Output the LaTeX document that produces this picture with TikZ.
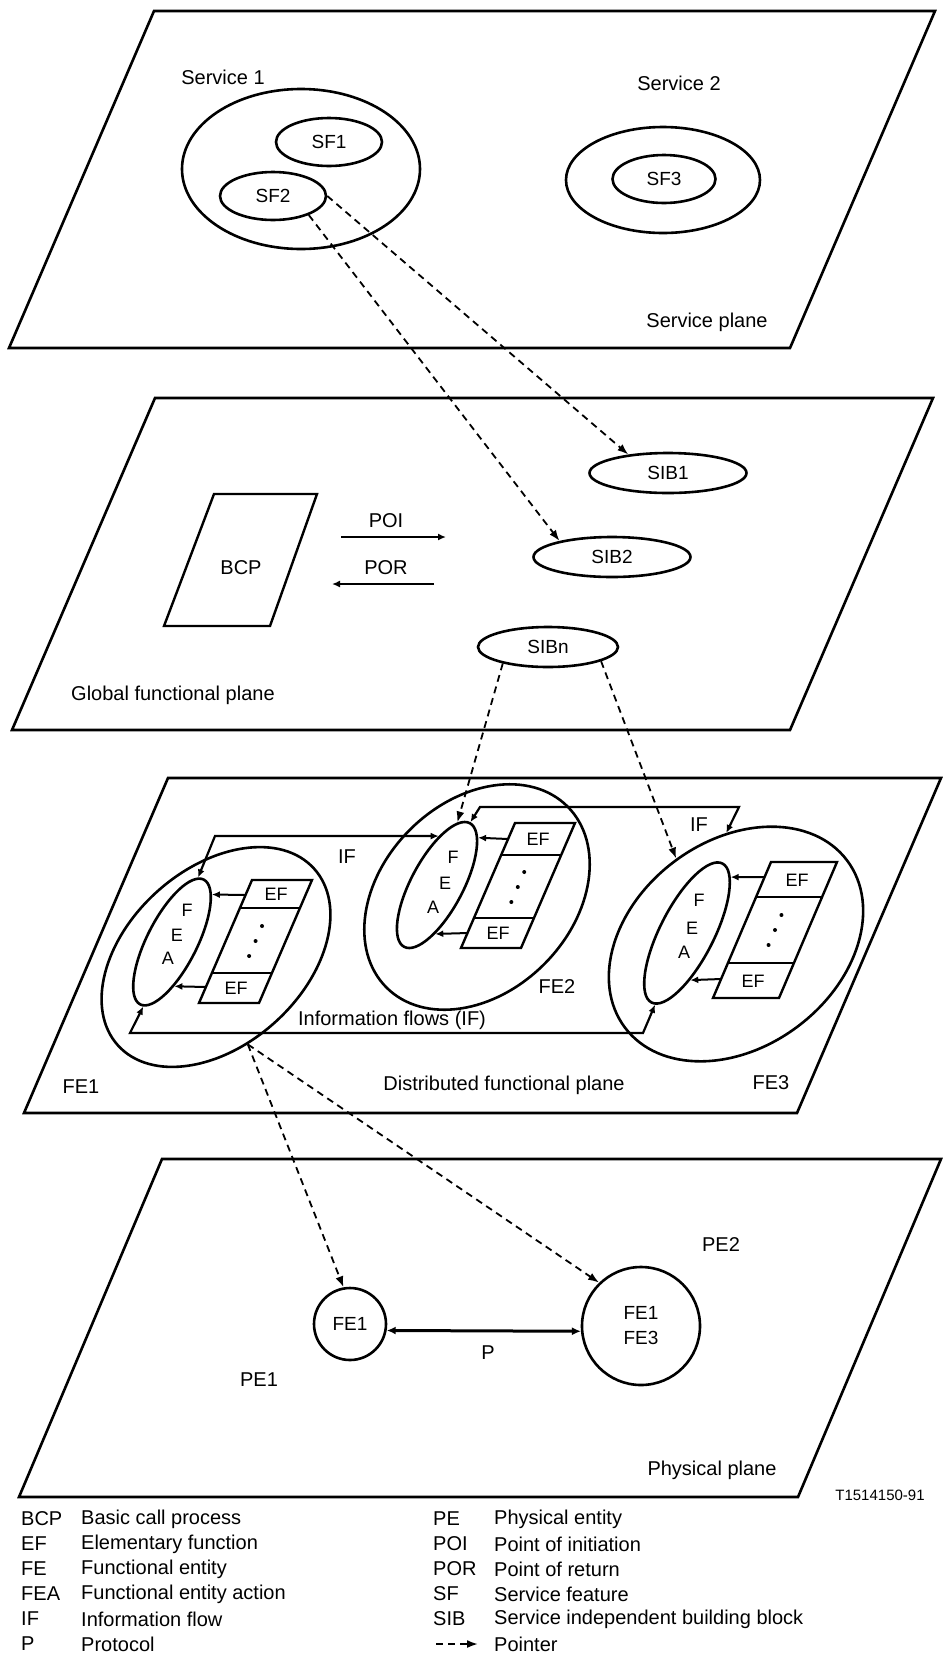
\documentclass[tikz,border=0pt]{standalone}
\usepackage{fontspec}
\setmainfont{Liberation Sans}
\usetikzlibrary{shapes.geometric,arrows.meta}
\tikzset{
 plane/.style={draw, line width=2.6pt, line join=miter},
 shp/.style={draw, ellipse, line width=2.6pt, inner sep=0pt, font=\fontsize{19}{25}\selectfont},
 lbl/.style={inner sep=0pt, font=\fontsize{20}{24}\selectfont},
 sml/.style={inner sep=0pt, font=\fontsize{18}{21}\selectfont},
 ptr/.style={line width=1.8pt, dash pattern=on 7pt off 5pt, -{Latex[length=11pt,width=8pt]}},
 flow/.style={line width=2pt, -{Latex[length=8pt,width=7pt]}},
 ifframe/.style={line width=2.2pt, line join=miter, {Latex[length=8pt,width=7pt]}-{Latex[length=8pt,width=7pt]}},
 efbox/.style={draw, line width=2.4pt, line join=miter},
 efdiv/.style={draw, line width=1.8pt},
 pline/.style={line width=3pt, {Latex[length=9pt,width=8pt]}-{Latex[length=9pt,width=8pt]}},
}
\begin{document}
\begin{tikzpicture}[x=1pt,y=-1pt]
\useasboundingbox (0,0) rectangle (946,1658);
% ---------- planes ----------
\draw[plane] (9,348) -- (790,348) -- (935,11) -- (154,11) -- cycle;
\draw[plane] (12,730) -- (790,730) -- (933,398) -- (155,398) -- cycle;
\draw[plane] (24,1113) -- (797,1113) -- (941,778) -- (168,778) -- cycle;
\draw[plane] (19,1497) -- (798,1497) -- (941,1159) -- (162,1159) -- cycle;
% ---------- service plane ----------
\node[lbl] (svc1lbl) at (223,77) {Service 1};
\node[shp, minimum width=238pt, minimum height=160pt] (svc1) at (301,169) {};
\node[shp, minimum width=106pt, minimum height=48pt] (sf1) at (329,142) {SF1};
\node[shp, minimum width=106pt, minimum height=48pt] (sf2) at (273,196) {SF2};
\node[lbl] (svc2lbl) at (679,83) {Service 2};
\node[shp, minimum width=194pt, minimum height=106pt] (svc2) at (663,180) {};
\node[shp, minimum width=103pt, minimum height=48pt] (sf3) at (664,179) {SF3};
\node[lbl] (splane) at (707,322) {Service plane};
% ---------- global functional plane ----------
\node[shp, minimum width=157pt, minimum height=40pt] (sib1) at (668,473) {SIB1};
\node[shp, minimum width=157pt, minimum height=40pt] (sib2) at (612,557) {SIB2};
\node[shp, minimum width=140pt, minimum height=40pt] (sibn) at (548,647) {SIBn};
\draw[efbox] (214,494) -- (317,494) -- (270,626) -- (164,626) -- cycle;
\node[lbl] (bcp) at (241,568) {BCP};
\coordinate (poiA) at (341,537); \coordinate (poiB) at (446,537);
\draw[flow] (poiA) -- (poiB);
\node[lbl] (poi) at (386,521) {POI};
\coordinate (porA) at (434,584); \coordinate (porB) at (332,584);
\draw[flow] (porA) -- (porB);
\node[lbl] (por) at (386,568) {POR};
\node[lbl, anchor=west] (gplane) at (71,695) {Global functional plane};
% ---------- distributed functional plane ----------
\node[shp, minimum width=264pt, minimum height=176pt, rotate=42] (fe1) at (216,957) {};
\node[shp, minimum width=256pt, minimum height=190pt, rotate=45] (fe2) at (477,897) {};
\node[shp, minimum width=278pt, minimum height=206pt, rotate=37] (fe3) at (736,944) {};
\node[shp, minimum width=140pt, minimum height=50pt, rotate=63] (fea1) at (172,942) {};
\node[shp, minimum width=140pt, minimum height=52pt, rotate=62] (fea2) at (437,885) {};
\node[shp, minimum width=156pt, minimum height=54pt, rotate=63] (fea3) at (687,933) {};
\node[sml] (f1F) at (187,910) {F};
\node[sml] (f1E) at (177,935) {E};
\node[sml] (f1A) at (168,958) {A};
\node[sml] (f2F) at (453,857) {F};
\node[sml] (f2E) at (445,883) {E};
\node[sml] (f2A) at (433,907) {A};
\node[sml] (f3F) at (699,900) {F};
\node[sml] (f3E) at (692,928) {E};
\node[sml] (f3A) at (684,952) {A};
% EF boxes
\draw[efbox] (252,880) -- (312,880) -- (259,1003) -- (199,1003) -- cycle;
\draw[efdiv] (240,908) -- (300,908) (212,973) -- (272,973);
\node[sml] (ef1a) at (276,894) {EF};
\node[sml] (ef1b) at (236,988) {EF};
\foreach \yy in {926,941,956} \fill ({256+0.43*(940-\yy)},\yy) circle (2pt);
\draw[efbox] (515,823) -- (575,823) -- (521,948) -- (461,948) -- cycle;
\draw[efdiv] (501,855) -- (561,855) (474,918) -- (534,918);
\node[sml] (ef2a) at (538,839) {EF};
\node[sml] (ef2b) at (498,933) {EF};
\foreach \yy in {872,887,902} \fill ({518+0.43*(886.5-\yy)},\yy) circle (2pt);
\draw[efbox] (771,862) -- (837,862) -- (779,998) -- (713,998) -- cycle;
\draw[efdiv] (756,897) -- (822,897) (728,963) -- (794,963);
\node[sml] (ef3a) at (797,880) {EF};
\node[sml] (ef3b) at (753,981) {EF};
\foreach \yy in {915,930,945} \fill ({775+0.43*(930-\yy)},\yy) circle (2pt);
% EF -> FEA
\coordinate (e1a) at (245,895); \coordinate (e1b) at (206,987);
\coordinate (e2a) at (508,839); \coordinate (e2b) at (468,933);
\coordinate (e3a) at (764,877); \coordinate (e3b) at (721,979);
\draw[flow] (e1a) -- (fea1.-13);
\draw[flow] (e1b) -- (fea1.-150);
\draw[flow] (e2a) -- (fea2.-13);
\draw[flow] (e2b) -- (fea2.-154);
\draw[flow] (e3a) -- (fea3.-11);
\draw[flow] (e3b) -- (fea3.-149);
% information flow frames
\coordinate (ifa) at (215,836); \coordinate (ifb) at (130,1033); \coordinate (ifc) at (643,1033);
\coordinate (ifd) at (480,807); \coordinate (ife) at (739,807);
\draw[ifframe] (fea1.5) -- (ifa) -- (fea2.26);
\draw[ifframe] (fea1.183) -- (ifb) -- (ifc) -- (fea3.183);
\draw[ifframe] (fea2.0) -- (ifd) -- (ife) -- (fe3.58);
\node[lbl] (if1) at (347,857) {IF};
\node[lbl] (if2) at (699,825) {IF};
\node[lbl] (lif) at (392,1020) {Information flows (IF)};
\node[lbl] (lfe2) at (557,987) {FE2};
\node[lbl] (lfe1) at (81,1087) {FE1};
\node[lbl] (ldfp) at (504,1085) {Distributed functional plane};
\node[lbl] (lfe3) at (771,1083) {FE3};
% ---------- physical plane ----------
\node[shp, minimum width=72pt, minimum height=72pt] (pfe1) at (350,1324) {FE1};
\node[shp, minimum width=118pt, minimum height=118pt, align=center] (pfe13) at (641,1326) {FE1\\FE3};
\draw[pline] (pfe1.-10) -- (pfe13.-175);
\node[lbl] (lp) at (488,1353) {P};
\node[lbl] (lpe1) at (259,1380) {PE1};
\node[lbl] (lpe2) at (721,1245) {PE2};
\node[lbl] (lphys) at (712,1470) {Physical plane};
\node[inner sep=0pt, font=\fontsize{15}{18}\selectfont] (tnum) at (880,1495) {T1514150-91};
% ---------- pointers ----------
\draw[ptr] (sf2.east) -- (sib1.155);
\draw[ptr] (sf2.-28) -- (sib2.163);
\draw[ptr] (sibn.200) -- (fea2.10);
\draw[ptr] (sibn.-15) -- (fe3.88);
\draw[ptr] (fe1.248) -- (pfe1.100);
\draw[ptr] (fe1.248) -- (pfe13.134);
% ---------- legend ----------
\foreach \ab/\tx [count=\i from 0] in {BCP/Basic call process, EF/Elementary function, FE/Functional entity, FEA/Functional entity action, IF/Information flow, P/Protocol}{
  \node[lbl, anchor=west] (la\i) at (21,1519+25*\i) {\ab};
  \node[lbl, anchor=west] (lt\i) at (81,1519+25*\i) {\tx};
}
\foreach \ab/\tx [count=\i from 0] in {PE/Physical entity, POI/Point of initiation, POR/Point of return, SF/Service feature, SIB/Service independent building block}{
  \node[lbl, anchor=west] (ra\i) at (433,1519+25*\i) {\ab};
  \node[lbl, anchor=west] (rt\i) at (494,1519+25*\i) {\tx};
}
\coordinate (lgA) at (436,1644); \coordinate (lgB) at (478,1644);
\draw[ptr] (lgA) -- (lgB);
\node[lbl, anchor=west] (rt5) at (494,1644) {Pointer};
\end{tikzpicture}
\end{document}
